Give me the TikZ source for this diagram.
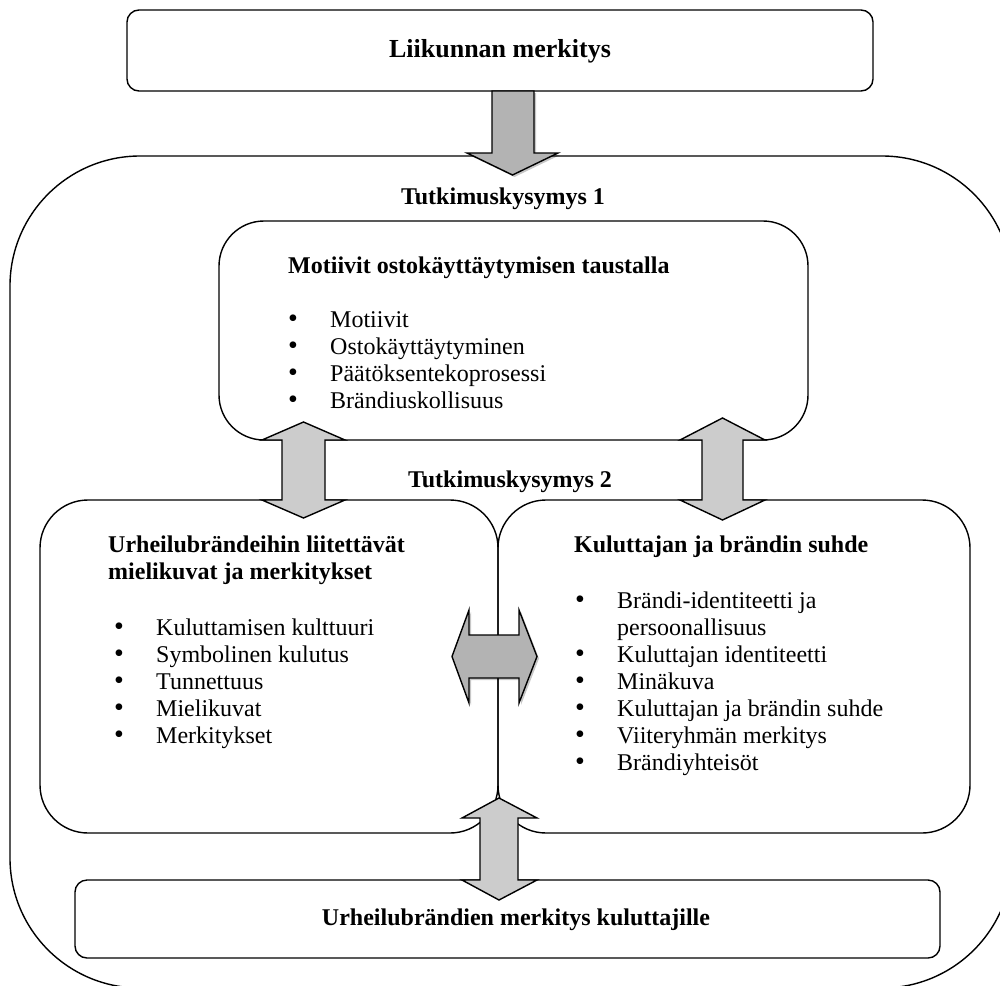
\documentclass[tikz,border=0pt]{standalone}
\usepackage{fontspec}
\setmainfont{Liberation Serif}
\usetikzlibrary{shadows}
\definecolor{arrowlight}{HTML}{CCCCCC}
\definecolor{arrowdark}{HTML}{B3B3B3}
\newcommand\listmark{\makebox[42pt][l]{{\fontsize{28}{27}\selectfont\textbullet}}}
\begin{document}
\begin{tikzpicture}[x=1pt,y=-1pt,
  frame/.style={draw=black, line width=1.4pt, inner sep=0pt, outer sep=0pt},
  blockarrow/.style={draw=black, line width=1.4pt, line join=miter, fill=arrowlight},
  shadedarrow/.style={blockarrow, fill=arrowdark,
    drop shadow={shadow xshift=2pt, shadow yshift=-2pt, opacity=0.22, fill=black}},
  heading/.style={font=\fontsize{24}{27}\selectfont\bfseries, inner sep=0pt},
  entry/.style={font=\fontsize{24}{27}\selectfont, inner sep=0pt, anchor=base west},
]
\useasboundingbox (0,0) rectangle (1000,985);

% frames
\node[frame, rounded corners=130pt, minimum width=1002pt, minimum height=832pt] (outer) at (511,572) {};
\node[frame, rounded corners=12pt, minimum width=746pt, minimum height=81pt] (top) at (500,50.5) {};
\node[frame, rounded corners=45pt, minimum width=589pt, minimum height=219pt] (rq1) at (513.5,330.5) {};
\node[frame, rounded corners=48pt, minimum width=458pt, minimum height=333pt] (left) at (269,666.5) {};
\node[frame, rounded corners=48pt, minimum width=472pt, minimum height=333pt] (right) at (734,666.5) {};
\node[frame, rounded corners=12pt, minimum width=865pt, minimum height=78pt] (bottom) at (507.5,919) {};

% block arrows
\draw[shadedarrow] (492,91) -- (534,91) -- (534,153) -- (558,153) -- (512.5,175)
  -- (467,153) -- (492,153) -- cycle;
\draw[blockarrow] (303.5,422) -- (345,440) -- (325,440) -- (325,500) -- (345,500)
  -- (303.5,518) -- (262,500) -- (282,500) -- (282,440) -- (262,440) -- cycle;
\draw[blockarrow] (722.5,418) -- (765,440) -- (743,440) -- (743,500) -- (765,500)
  -- (722.5,520) -- (680,500) -- (702,500) -- (702,440) -- (680,440) -- cycle;
\draw[shadedarrow] (452,656.5) -- (469,610) -- (469,635) -- (519,635) -- (519,610)
  -- (537,656.5) -- (519,703) -- (519,678) -- (469,678) -- (469,703) -- cycle;
\draw[blockarrow] (499,798) -- (537,818) -- (518,818) -- (518,880) -- (537,880)
  -- (499,900) -- (462,880) -- (480,880) -- (480,818) -- (462,818) -- cycle;

% headings
\node[heading, anchor=base, font=\fontsize{26}{29}\selectfont\bfseries] (t0) at (500,57) {Liikunnan merkitys};
\node[heading, anchor=base] (q1) at (503,204) {Tutkimuskysymys 1};
\node[heading, anchor=base] (q2) at (510,487) {Tutkimuskysymys 2};
\node[heading, anchor=base] (t9) at (516,925) {Urheilubrändien merkitys kuluttajille};
\node[heading, anchor=base west] (h1) at (288,273) {Motiivit ostokäyttäytymisen taustalla};
\node[heading, anchor=base west] (h2a) at (108,552) {Urheilubrändeihin liitettävät};
\node[heading, anchor=base west] (h2b) at (108,579) {mielikuvat ja merkitykset};
\node[heading, anchor=base west] (h3) at (574,552) {Kuluttajan ja brändin suhde};

% bullet lists
\foreach \t [count=\i] in {Motiivit, Ostokäyttäytyminen, Päätöksentekoprosessi, Brändiuskollisuus}
  \node[entry] (a\i) at (288,{327+27*(\i-1)}) {\listmark\t};
\foreach \t [count=\i] in {Kuluttamisen kulttuuri, Symbolinen kulutus, Tunnettuus, Mielikuvat, Merkitykset}
  \node[entry] (b\i) at (114,{635+27*(\i-1)}) {\listmark\t};
\node[entry] (c1) at (575,608) {\listmark Brändi-identiteetti ja};
\node[entry] (c1b) at (575,635) {\makebox[42pt][l]{}persoonallisuus};
\foreach \t [count=\i] in {Kuluttajan identiteetti, Minäkuva, Kuluttajan ja brändin suhde, Viiteryhmän merkitys, Brändiyhteisöt}
  \node[entry] (c\i x) at (575,{662+27*(\i-1)}) {\listmark\t};
\end{tikzpicture}
\end{document}
